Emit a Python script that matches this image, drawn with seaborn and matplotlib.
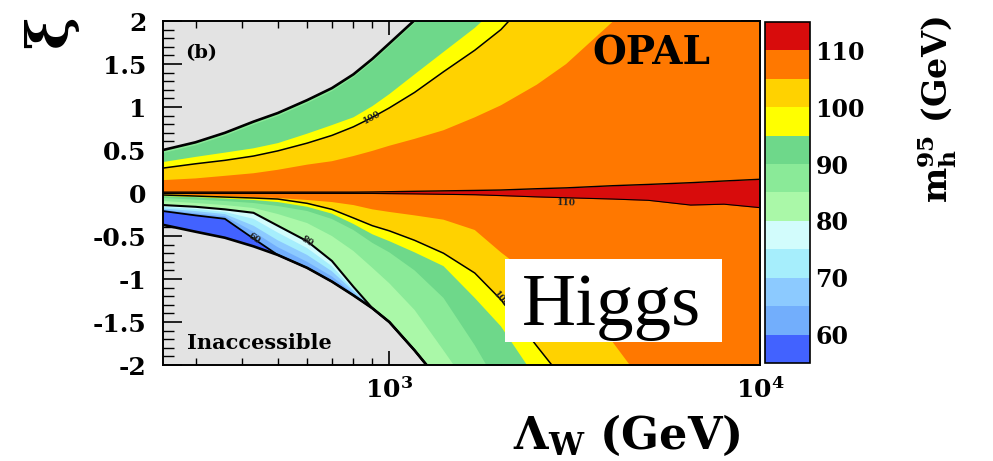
import numpy as np
import matplotlib
matplotlib.use("Agg")
import matplotlib.pyplot as plt
from matplotlib.colors import ListedColormap, BoundaryNorm
from matplotlib.cm import ScalarMappable
from matplotlib.patches import Rectangle
from matplotlib.ticker import (LogLocator, LogFormatterMathtext, MultipleLocator,
                               NullFormatter, FuncFormatter)
import seaborn as sns

# ---------------------------------------------------------------------------
# Lambda_W grid (GeV) on which the m_h^95 contour boundaries are tabulated
lambda_w = [245, 300, 360, 430, 500, 600, 700, 800, 900, 1000, 1170,
            1400, 1700, 2000, 2500, 3000, 4000, 5000, 6500, 8000, 10000]

# xi of the edge of the accessible region (upper / lower branch)
xi_edge_up = [0.50, 0.59, 0.70, 0.83, 0.93, 1.08, 1.22, 1.38, 1.56, 1.74, 2.01,
              2.35, 2.75, 3.15, 3.60, 4.00, 4.40, 4.80, 5.20, 5.60, 6.00]
xi_edge_lo = [-0.37, -0.45, -0.52, -0.62, -0.72, -0.87, -1.03, -1.19, -1.34, -1.50, -1.83,
              -2.24, -2.80, -3.30, -3.80, -4.30, -4.80, -5.30, -5.80, -6.30, -6.80]

# upper branch of the contours (m_h^95 above the level inside)
xi_90_up = [0.465, 0.555, 0.665, 0.795, 0.895, 1.045, 1.185, 1.345, 1.525, 1.705, 1.975,
            2.31, 2.71, 3.11, 3.56, 3.96, 4.36, 4.76, 5.16, 5.56, 5.96]
xi_95_up = [0.36, 0.42, 0.47, 0.52, 0.58, 0.69, 0.79, 0.88, 1.01, 1.15, 1.38,
            1.64, 1.92, 2.20, 2.60, 3.00, 3.40, 3.80, 4.20, 4.60, 5.00]
xi_100_up = [0.29, 0.34, 0.38, 0.43, 0.49, 0.58, 0.67, 0.77, 0.88, 0.99, 1.17,
             1.41, 1.66, 1.90, 2.35, 2.70, 3.10, 3.50, 3.90, 4.30, 4.70]
xi_105_up = [0.15, 0.17, 0.20, 0.23, 0.27, 0.33, 0.37, 0.43, 0.49, 0.55, 0.63,
             0.73, 0.88, 1.02, 1.26, 1.50, 1.99, 2.40, 2.90, 3.30, 3.70]
xi_110_up = [0.010, 0.010, 0.010, 0.010, 0.010, 0.010, 0.010, 0.010, 0.012, 0.015, 0.020,
             0.025, 0.030, 0.035, 0.050, 0.060, 0.085, 0.100, 0.120, 0.140, 0.160]

# lower branch of the contours
xi_110_lo = [-0.005, -0.005, -0.005, -0.005, -0.005, -0.005, -0.005, -0.005, -0.005, -0.007, -0.010,
             -0.015, -0.020, -0.030, -0.045, -0.055, -0.070, -0.085, -0.140, -0.130, -0.170]
xi_105_lo = [-0.012, -0.023, -0.035, -0.047, -0.058, -0.081, -0.105, -0.14, -0.19, -0.22, -0.26,
             -0.31, -0.43, -0.69, -1.01, -1.27, -1.73, -2.29, -2.90, -3.40, -3.90]
xi_100_lo = [-0.023, -0.035, -0.047, -0.058, -0.070, -0.12, -0.19, -0.29, -0.38, -0.44, -0.55,
             -0.70, -0.93, -1.24, -1.78, -2.21, -2.80, -3.30, -3.80, -4.30, -4.80]
xi_95_lo = [-0.035, -0.047, -0.064, -0.081, -0.105, -0.16, -0.24, -0.36, -0.48, -0.56, -0.69,
            -0.85, -1.22, -1.55, -2.17, -2.70, -3.30, -3.80, -4.30, -4.80, -5.30]
xi_90_lo = [-0.058, -0.076, -0.093, -0.116, -0.151, -0.209, -0.302, -0.43, -0.58, -0.69, -0.90,
            -1.22, -1.77, -2.29, -2.90, -3.40, -3.90, -4.40, -4.90, -5.40, -5.90]
xi_85_lo = [-0.093, -0.116, -0.140, -0.174, -0.244, -0.349, -0.50, -0.674, -0.87, -1.05, -1.36,
            -1.83, -2.35, -2.90, -3.40, -3.90, -4.40, -4.90, -5.40, -5.90, -6.40]
xi_80_lo = [-0.14, -0.16, -0.19, -0.23, -0.38, -0.56, -0.79, -1.09, -1.34, -1.50, -1.83,
            -2.24, -2.80, -3.30, -3.80, -4.30, -4.80, -5.30, -5.80, -6.30, -6.80]
xi_75_lo = [-0.16, -0.185, -0.22, -0.30, -0.46, -0.64, -0.85, -1.12, -1.34, -1.50, -1.83,
            -2.24, -2.80, -3.30, -3.80, -4.30, -4.80, -5.30, -5.80, -6.30, -6.80]
xi_70_lo = [-0.18, -0.21, -0.245, -0.38, -0.55, -0.72, -0.91, -1.14, -1.34, -1.50, -1.83,
            -2.24, -2.80, -3.30, -3.80, -4.30, -4.80, -5.30, -5.80, -6.30, -6.80]
xi_65_lo = [-0.195, -0.235, -0.27, -0.45, -0.63, -0.80, -0.97, -1.17, -1.34, -1.50, -1.83,
            -2.24, -2.80, -3.30, -3.80, -4.30, -4.80, -5.30, -5.80, -6.30, -6.80]
xi_60_lo = [-0.21, -0.26, -0.30, -0.53, -0.72, -0.87, -1.03, -1.19, -1.34, -1.50, -1.83,
            -2.24, -2.80, -3.30, -3.80, -4.30, -4.80, -5.30, -5.80, -6.30, -6.80]

# colour scale of m_h^95 (GeV)
levels = [55, 60, 65, 70, 75, 80, 85, 90, 95, 100, 105, 110, 115]
band_colors = ["#4262ff", "#72aefc", "#8ccaff", "#a6eefc", "#d2fcfc", "#aaf8a8",
               "#8aea98", "#6ed88a", "#ffff00", "#ffd200", "#ff7800", "#d80c0c"]
cbar_ticks = [60, 70, 80, 90, 100, 110]

# region above each level: (level, lower branch, upper branch)
regions = [
    (55, xi_edge_lo, xi_edge_up),
    (60, xi_60_lo, xi_edge_up),
    (65, xi_65_lo, xi_edge_up),
    (70, xi_70_lo, xi_edge_up),
    (75, xi_75_lo, xi_edge_up),
    (80, xi_80_lo, xi_edge_up),
    (85, xi_85_lo, xi_edge_up),
    (90, xi_90_lo, xi_90_up),
    (95, xi_95_lo, xi_95_up),
    (100, xi_100_lo, xi_100_up),
    (105, xi_105_lo, xi_105_up),
    (110, xi_110_lo, xi_110_up),
]

# ---------------------------------------------------------------------------
sns.set_theme(style="ticks")
plt.rcParams["font.family"] = ["DejaVu Serif", "DejaVu Sans"]
plt.rcParams["font.weight"] = "bold"
plt.rcParams["mathtext.fontset"] = "dejavuserif"
plt.rcParams["mathtext.default"] = "bf"
plt.rcParams["axes.linewidth"] = 1.4
for key in ["text.color", "axes.labelcolor", "xtick.color", "ytick.color",
            "xtick.labelcolor", "ytick.labelcolor", "axes.edgecolor"]:
    plt.rcParams[key] = "black"

fig = plt.figure(figsize=(9.93, 4.61), dpi=100)
ax = fig.add_axes([0.1641, 0.2082, 0.6012, 0.7462])
cax = fig.add_axes([0.7704, 0.2126, 0.0453, 0.7397])

ax.set_xscale("log")
ax.set_xlim(245, 10000)
ax.set_ylim(-2, 2)
ax.set_facecolor("#e3e3e3")

lam = np.asarray(lambda_w, dtype=float)
for lev, lo, hi in regions:
    color = band_colors[levels.index(lev)]
    ax.fill_between(lam, lo, hi, color=color, linewidth=0, zorder=1)


# contour lines
def contour_line(y, lw):
    sns.lineplot(x=lambda_w, y=y, ax=ax, color="black", linewidth=lw,
                 estimator=None, sort=False, zorder=3)


contour_line(xi_edge_up, 1.9)
contour_line(xi_edge_lo, 1.9)
contour_line(xi_100_up, 1.1)
contour_line(xi_100_lo, 1.1)
contour_line(xi_110_up, 1.0)
contour_line(xi_110_lo, 0.8)
contour_line(xi_80_lo, 1.5)
contour_line(xi_60_lo, 1.3)


def line_label(text, curve, i, dy=0.0):
    p0 = ax.transData.transform((lambda_w[i - 1], curve[i - 1]))
    p1 = ax.transData.transform((lambda_w[i + 1], curve[i + 1]))
    ang = np.degrees(np.arctan2(p1[1] - p0[1], p1[0] - p0[0]))
    ax.text(lambda_w[i], curve[i] + dy, text, fontsize=6.5, rotation=ang,
            rotation_mode="anchor", ha="center", va="center", zorder=4,
            color="#222222")


line_label("100", xi_100_up, 8)
line_label("80", xi_80_lo, 5)
line_label("60", xi_60_lo, 3)
line_label("100", xi_100_lo, 13)
line_label("110", xi_110_lo, 15, dy=-0.06)

# axes decoration
ax.xaxis.set_major_locator(LogLocator(base=10))
ax.xaxis.set_minor_locator(LogLocator(base=10, subs=np.arange(2, 10)))
ax.xaxis.set_major_formatter(LogFormatterMathtext())
ax.xaxis.set_minor_formatter(NullFormatter())
ax.yaxis.set_major_locator(MultipleLocator(0.5))
ax.yaxis.set_minor_locator(MultipleLocator(0.1))
ax.yaxis.set_major_formatter(FuncFormatter(lambda v, p: "0" if abs(v) < 1e-9 else f"{v:g}"))

ax.tick_params(which="both", direction="in", top=True, right=True, colors="black")
ax.tick_params(axis="y", which="major", length=14, width=1.2, labelsize=18, pad=12)
ax.tick_params(axis="y", which="minor", length=8, width=1.0)
ax.tick_params(axis="x", which="major", length=10, width=1.2, labelsize=18, pad=9)
ax.tick_params(axis="x", which="minor", length=5, width=1.0)
for lab in ax.get_xticklabels() + ax.get_yticklabels():
    lab.set_fontweight("bold")
for sp in ax.spines.values():
    sp.set_color("black")
    sp.set_linewidth(1.4)
    sp.set_zorder(5)

ax.set_xlabel("Λ$_{W}$ (GeV)", fontsize=32, fontweight="bold")
ax.xaxis.set_label_coords(0.777, -0.14)
ax.xaxis.label.set_va("top")
ax.set_ylabel("ξ", fontsize=40, fontweight="bold", rotation=90)
ax.yaxis.set_label_coords(-0.188, 0.968)
ax.yaxis.label.set_va("center")
ax.yaxis.label.set_ha("center")

ax.text(0.037, 0.907, "(b)", transform=ax.transAxes, fontsize=14,
        fontweight="bold", va="center", ha="left", zorder=6)
ax.text(0.7186, 0.9055, "OPAL", transform=ax.transAxes, fontsize=28,
        fontweight="bold", va="center", ha="left", zorder=6)
ax.text(0.040, 0.065, "Inaccessible", transform=ax.transAxes, fontsize=15,
        fontweight="bold", va="center", ha="left", zorder=6)

ax.add_patch(Rectangle((0.573, 0.0669), 0.363, 0.2413, transform=ax.transAxes,
                       facecolor="white", edgecolor="none", zorder=8))
ax.text(0.752, 0.116, "Higgs", transform=ax.transAxes, fontsize=54,
        family="Liberation Serif", fontweight="normal", ha="center",
        va="baseline", zorder=9, color="black")

# colour bar
cmap = ListedColormap(band_colors)
norm = BoundaryNorm(levels, cmap.N)
cb = fig.colorbar(ScalarMappable(norm=norm, cmap=cmap), cax=cax, ticks=cbar_ticks)
cb.ax.tick_params(direction="in", length=12, width=1.2, labelsize=17, pad=4,
                  colors="black")
for lab in cb.ax.get_yticklabels():
    lab.set_fontweight("bold")
cb.outline.set_linewidth(1.2)
cb.outline.set_edgecolor("black")
cb.ax.minorticks_off()
cb.set_label("$m_h^{95}$ (GeV)", fontsize=24, fontweight="bold", rotation=90)
cb.ax.yaxis.set_label_coords(3.82, 0.742)
cb.ax.yaxis.label.set_va("center")
cb.ax.yaxis.label.set_ha("center")

fig.savefig("out.png", dpi=100)
